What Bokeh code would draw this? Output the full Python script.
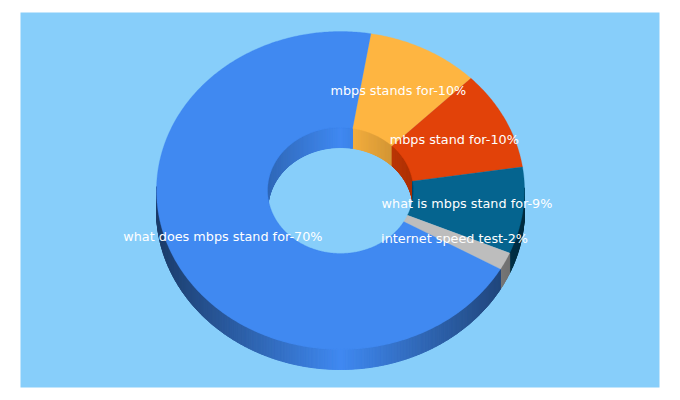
import numpy as np
from bokeh.plotting import figure
from bokeh.models import ColumnDataSource, Range1d
from bokeh.core.properties import value
from bokeh.embed import file_html
from bokeh.resources import INLINE

labels = ["mbps stands for", "mbps stand for", "what is mbps stand for", "internet speed test", "what does mbps stand for"]
shown_pct = [10, 10, 9, 2, 70]
shares = [9.9, 10.1, 8.8, 1.8, 69.4]
colors = ["#feb541", "#e24209", "#05648f", "#bdbdbd", "#4089f1"]
shade_colors = ["#feb541", "#e24209", "#05648f", "#e6e6e6", "#4089f1"]
start_deg = 9.5

BG = "#87cefa"
W, H = 639, 375
cx, cy, rx, ry, depth = 340, 190, 184, 159, 20
hole = 0.396

p = figure(width=660, height=388, output_backend="svg", toolbar_location=None,
           x_range=Range1d(20, 20 + W), y_range=Range1d(12 + H, 12),
           min_border_left=20, min_border_top=12, min_border_right=1, min_border_bottom=1,
           background_fill_color=BG, border_fill_color="white", outline_line_color=None)
p.axis.visible = False
p.grid.visible = False


def hex2rgb(h):
    return np.array([int(h[i:i + 2], 16) for i in (1, 3, 5)], float)


def shade(col, f):
    c = hex2rgb(col) * f
    return "#%02x%02x%02x" % tuple(int(round(max(0, min(255, v)))) for v in c)


edges = start_deg + np.cumsum([0] + shares) * 3.6

wall_x, wall_y, wall_c = [], [], []
in_x, in_y, in_c = [], [], []
face_x, face_y, face_c = [], [], []
lab_x, lab_y = [], []

for i, col in enumerate(colors):
    a0, a1 = edges[i], edges[i + 1]
    n = max(3, int((a1 - a0) / 0.5))
    th = np.radians(np.linspace(a0, a1, n + 1))
    for k in range(n):
        t0, t1 = th[k], th[k + 1]
        mid = (t0 + t1) / 2
        if np.cos(mid) < 0.02:
            xs = cx + rx * np.sin([t0, t1])
            ys = cy - ry * np.cos([t0, t1])
            wall_x.append(list(xs) + list(xs[::-1]))
            wall_y.append(list(ys) + list(ys[::-1] + depth))
            wall_c.append(shade(shade_colors[i], 1 - 0.56 * abs(np.sin(mid))))
        else:
            ix = cx + rx * hole * np.sin([t0, t1])
            iy = cy - ry * hole * np.cos([t0, t1])
            in_x.append(list(ix) + list(ix[::-1]))
            in_y.append(list(iy) + list(iy[::-1] + depth))
            in_c.append(shade(shade_colors[i], 1 - 0.24 * abs(np.sin(mid))))
    m = max(8, int((a1 - a0) / 0.5))
    t = np.radians(np.linspace(a0, a1, m + 1))
    face_x.append(list(cx + rx * np.sin(t)) + list(cx + rx * hole * np.sin(t[::-1])))
    face_y.append(list(cy - ry * np.cos(t)) + list(cy - ry * hole * np.cos(t[::-1])))
    face_c.append(col)
    am = np.radians((a0 + a1) / 2)
    lab_x.append(cx + 0.7 * rx * np.sin(am) - 1.3)
    lab_y.append(cy - 0.7 * ry * np.cos(am) - 1.5)

p.patches(wall_x, wall_y, fill_color=wall_c, line_color=wall_c, line_width=1)
p.patches(in_x, in_y, fill_color=in_c, line_color=in_c, line_width=1)
p.patches(face_x, face_y, fill_color=face_c, line_color=face_c, line_width=0.3)

src = ColumnDataSource(dict(x=lab_x, y=lab_y,
                            t=[f"{a}-{b}%" for a, b in zip(labels, shown_pct)]))
p.text("x", "y", text="t", source=src, text_color="white", text_align="center",
       text_baseline="middle", text_font=value("DejaVu Sans"), text_font_size="12.8px")

open("out.html", "w").write(file_html(p, INLINE))
